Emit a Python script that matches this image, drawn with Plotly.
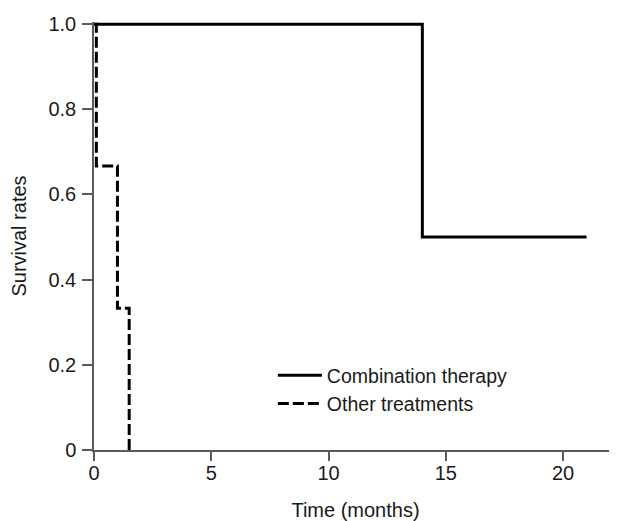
import plotly.graph_objects as go

# Kaplan-Meier step data (time in months, survival rate)
combo_time = [0, 14, 21]
combo_surv = [1.0, 0.5, 0.5]
other_time = [0, 0.1, 1.0, 1.5]
other_surv = [1.0, 0.667, 0.333, 0.0]

x_ticks = [0, 5, 10, 15, 20]
y_ticks = [0, 0.2, 0.4, 0.6, 0.8, 1.0]
y_ticktext = ["0", "0.2", "0.4", "0.6", "0.8", "1.0"]

FONT = "Liberation Sans, Arial, sans-serif"
TXT = "#1a1a1a"
AX = "#5a5a5a"

fig = go.Figure()
fig.add_trace(go.Scatter(
    x=combo_time, y=combo_surv, mode="lines", line_shape="hv",
    name="Combination therapy",
    line=dict(color="#000000", width=3),
))
fig.add_trace(go.Scatter(
    x=other_time, y=other_surv, mode="lines", line_shape="hv",
    name="Other treatments",
    line=dict(color="#000000", width=3, dash="11px,4px"),
))

fig.update_layout(
    width=609, height=513,
    margin=dict(l=86, r=0, t=14, b=67),
    paper_bgcolor="white", plot_bgcolor="white",
    font=dict(family=FONT, size=20, color=TXT),
    showlegend=True,
    legend=dict(
        x=0.342, y=0.2194, xanchor="left", yanchor="top",
        bgcolor="rgba(0,0,0,0)", font=dict(size=19.5, color=TXT),
        tracegroupgap=0, itemwidth=44,
    ),
    xaxis=dict(
        range=[0, 22.3], tickvals=x_ticks, ticks="outside", ticklen=9,
        tickwidth=1.5, tickcolor=AX, showline=True, linecolor=AX, linewidth=1.5,
        showgrid=False, zeroline=False, ticklabelstandoff=-5,
        title=dict(text="Time (months)", font=dict(size=20, color=TXT), standoff=23),
        tickfont=dict(size=20, color=TXT),
    ),
    yaxis=dict(
        range=[0, 1.005], tickvals=y_ticks, ticktext=y_ticktext, ticks="outside",
        ticklen=10, tickwidth=1.5, tickcolor=AX, showline=True, linecolor=AX,
        linewidth=1.5, showgrid=False, zeroline=False, ticklabelstandoff=2,
        title=dict(text="Survival rates", font=dict(size=20, color=TXT), standoff=17),
        tickfont=dict(size=20, color=TXT),
    ),
)

fig.write_html("out.html")
